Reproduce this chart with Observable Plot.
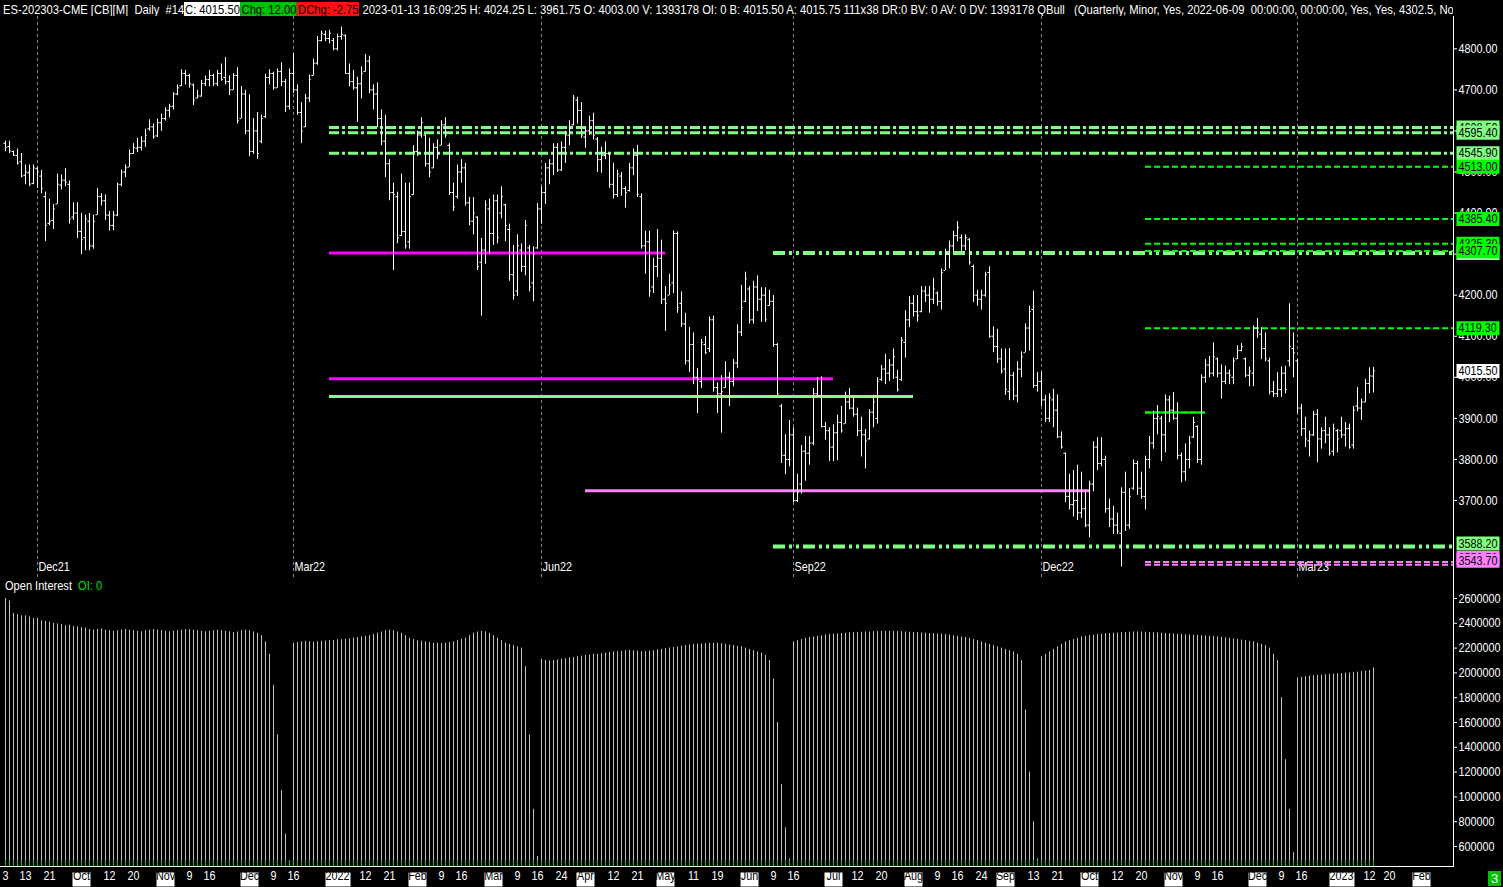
<!DOCTYPE html>
<html>
<head>
<meta charset="utf-8">
<script src="https://cdn.jsdelivr.net/npm/d3@7"></script>
<script src="https://cdn.jsdelivr.net/npm/@observablehq/plot@0.6"></script>
<style>
  html, body { margin: 0; padding: 0; background: #000; }
  #chart { position: relative; width: 1503px; height: 887px; overflow: hidden; background: #000;
           font-family: "Liberation Sans", Arial, sans-serif; }
  #chart svg { position: absolute; left: 0; }
  #hdr { position: absolute; left: 3px; top: 0; width: 1450px; height: 16px; overflow: hidden; }
  #hdr > span.line { display: inline-block; white-space: pre; color: #fff; font-size: 13.5px; line-height: 16px;
         transform: scaleX(0.83); transform-origin: 0 0; }
  #hdr .bx { color: #000; padding: 0 1px; }
  #oiTitle { position: absolute; left: 5px; top: 578px; color: #fff; font-size: 13px; line-height: 15px; white-space: pre;
             transform: scaleX(0.85); transform-origin: 0 0; }
  #oiTitle span { color: #00e000; }
  #barNo { position: absolute; left: 1488px; top: 871px; width: 13px; height: 15px; background: #00c000;
           color: #fff; font-size: 13px; line-height: 15px; text-align: center; }
</style>
</head>
<body>
<div id="chart">
  <div id="hdr"><span class="line" id="hdrLine"></span></div>
  <div id="oiTitle"></div>
  <div id="barNo">3</div>
</div>
<script>
// ---- daily bars, ES continuation (Sep 3 2021 .. Jan 13 2023) ----
const highs = [
  4575,4575,4551,4556,4545,4517,4517,4517,4512,4504,
  4451,4434,4421,4495,4493,4508,4478,4425,4425,4399,
  4395,4399,4395,4460,4447,4444,4404,4404,4473,4505,
  4517,4554,4569,4582,4586,4604,4627,4617,4629,4641,
  4656,4665,4693,4712,4749,4747,4738,4714,4699,4723,
  4734,4747,4738,4747,4763,4779,4734,4740,4754,4708,
  4699,4688,4630,4645,4639,4738,4749,4743,4751,4766,
  4725,4751,4788,4712,4669,4689,4736,4775,4830,4843,
  4843,4845,4825,4836,4853,4834,4763,4747,4731,4756,
  4786,4782,4712,4717,4651,4638,4530,4473,4451,4495,
  4473,4473,4564,4599,4632,4591,4582,4569,4578,4625,
  4632,4569,4473,4517,4530,4521,4438,4438,4391,4338,
  4430,4434,4444,4444,4464,4421,4373,4321,4347,4325,
  4382,4321,4318,4423,4464,4521,4530,4569,4569,4573,
  4599,4625,4686,4682,4669,4608,4636,4643,4584,4560,
  4573,4545,4521,4504,4499,4464,4521,4556,4565,4447,
  4356,4356,4290,4360,4334,4221,4251,4356,4354,4208,
  4156,4121,4108,4021,4092,4099,4147,4149,3986,4004,
  4038,4012,4043,4128,4224,4256,4221,4234,4247,4218,
  4218,4212,4199,4082,3934,3860,3895,3877,3764,3834,
  3856,3856,3973,3999,4001,3890,3877,3884,3908,3929,
  3964,3973,3951,3925,3903,3873,3921,3956,3999,4029,
  4056,4043,4069,4017,4097,4162,4197,4199,4199,4221,
  4221,4221,4241,4208,4264,4312,4332,4356,4379,4347,
  4347,4338,4273,4212,4212,4256,4269,4123,4117,4069,
  4069,4070,4012,4038,4062,4130,4173,4210,4012,4012,
  3956,3960,3971,3957,3867,3816,3764,3773,3786,3769,
  3725,3747,3843,3853,3853,3808,3703,3686,3669,3731,
  3769,3729,3799,3795,3769,3808,3856,3917,3931,3905,
  3957,3954,3963,3938,3816,3838,3856,3903,3882,4006,
  4043,4051,4084,4047,4030,4027,4018,4047,4077,4082,
  4047,4025,4125,4143,4121,4108,4047,3990,4012,4025,
  4027,4179,4108,4043,3934,3903,3869,3917,3921,3877,
  3903,3877,3886,3873,3903,3890,3886,3929,3975,3947,
  3995,4023,4024.25
];
const lows = [
  4549,4545,4538,4517,4486,4469,4464,4469,4460,4447,
  4331,4369,4360,4421,4456,4464,4373,4382,4338,4299,
  4308,4308,4312,4395,4417,4382,4356,4357,4391,4464,
  4486,4511,4543,4547,4551,4560,4599,4580,4584,4599,
  4624,4632,4651,4686,4708,4712,4704,4662,4678,4682,
  4708,4708,4708,4708,4721,4712,4686,4699,4617,4630,
  4591,4537,4543,4531,4569,4630,4712,4699,4704,4708,
  4645,4651,4691,4638,4569,4608,4669,4734,4760,4817,
  4817,4812,4795,4795,4821,4738,4708,4699,4621,4678,
  4743,4691,4651,4608,4564,4486,4430,4260,4325,4343,
  4312,4312,4443,4538,4582,4512,4486,4508,4530,4564,
  4582,4443,4404,4434,4473,4417,4369,4347,4260,4149,
  4275,4299,4321,4325,4386,4330,4234,4188,4197,4256,
  4247,4208,4184,4312,4373,4421,4469,4491,4499,4501,
  4521,4564,4612,4617,4582,4558,4589,4578,4499,4497,
  4530,4460,4434,4438,4441,4412,4451,4491,4438,4312,
  4251,4195,4204,4243,4177,4112,4199,4204,4156,4121,
  4030,4012,3982,3912,3973,4056,4060,3964,3912,3864,
  3973,3929,3977,4021,4099,4182,4130,4130,4160,4134,
  4134,4173,4073,3954,3790,3763,3782,3695,3695,3716,
  3747,3786,3834,3951,3877,3847,3795,3795,3797,3864,
  3886,3921,3903,3856,3806,3777,3847,3877,3886,3990,
  3982,3990,3995,3964,3990,4047,4121,4147,4134,4157,
  4182,4156,4177,4173,4164,4260,4264,4304,4330,4304,
  4308,4273,4182,4173,4164,4195,4095,4060,4034,4008,
  3956,3943,3943,3938,3999,4060,4064,3973,3964,3929,
  3890,3890,3877,3851,3825,3695,3677,3660,3651,3656,
  3634,3609,3721,3773,3782,3669,3634,3617,3617,3538,
  3625,3630,3725,3712,3703,3677,3777,3825,3860,3795,
  3816,3890,3895,3799,3743,3747,3777,3851,3790,3786,
  3986,3999,4001,3999,3947,3982,3982,3982,4043,4062,
  3999,3977,3977,4095,4043,4038,3957,3951,3951,3951,
  3960,4025,3999,3912,3856,3829,3806,3856,3792,3825,
  3838,3808,3808,3816,3851,3830,3825,3825,3916,3895,
  3938,3960,3961.75
];
const opens = [
  4570,4562,4550,4540,4525,4492,4498,4472,4508,4490,
  4440,4375,4382,4422,4468,4480,4470,4390,4400,4355,
  4340,4380,4320,4396,4440,4430,4395,4370,4395,4470,
  4500,4512,4545,4558,4560,4575,4605,4610,4588,4620,
  4630,4650,4660,4690,4710,4740,4735,4712,4680,4685,
  4715,4725,4735,4715,4740,4730,4720,4700,4735,4630,
  4690,4600,4550,4600,4575,4635,4730,4740,4705,4745,
  4720,4660,4740,4700,4645,4610,4680,4735,4765,4820,
  4835,4825,4820,4800,4830,4832,4740,4720,4705,4715,
  4745,4770,4700,4690,4630,4575,4520,4450,4440,4345,
  4355,4330,4445,4550,4590,4590,4520,4510,4560,4565,
  4615,4565,4450,4440,4500,4510,4425,4380,4390,4280,
  4310,4410,4350,4430,4400,4420,4360,4250,4210,4310,
  4270,4315,4230,4315,4410,4450,4510,4520,4560,4505,
  4560,4590,4615,4675,4650,4585,4600,4625,4580,4530,
  4540,4545,4470,4445,4490,4460,4455,4510,4540,4440,
  4320,4330,4220,4270,4290,4190,4200,4230,4350,4180,
  4130,4040,4080,4000,3990,4080,4070,4140,3975,3960,
  3975,4000,3990,4035,4110,4185,4215,4140,4220,4190,
  4200,4175,4185,4080,3930,3810,3800,3860,3700,3740,
  3820,3815,3840,3960,3955,3880,3870,3830,3865,3890,
  3887,3940,3925,3910,3870,3860,3850,3915,3900,3995,
  4020,4010,4030,4000,3995,4085,4140,4180,4160,4160,
  4210,4200,4190,4205,4185,4260,4300,4320,4345,4340,
  4320,4335,4270,4200,4190,4200,4255,4100,4075,4045,
  4020,3965,4005,3955,4020,4060,4120,4165,3980,3990,
  3945,3900,3945,3920,3855,3815,3710,3690,3700,3670,
  3680,3640,3740,3830,3790,3800,3680,3655,3640,3620,
  3720,3640,3730,3790,3730,3710,3800,3840,3900,3900,
  3860,3945,3920,3900,3810,3770,3800,3855,3880,3800,
  4000,4030,4010,4045,4010,3990,4010,4000,4045,4065,
  4045,4005,4010,4120,4105,4070,4040,3965,3960,3970,
  4010,4040,4070,4040,3925,3875,3845,3860,3910,3850,
  3870,3860,3820,3870,3870,3860,3875,3835,3930,3925,
  3940,3985,4003
];
const closes = [
  4560,4552,4541,4522,4490,4500,4470,4510,4500,4460,
  4370,4380,4410,4470,4480,4475,4385,4400,4355,4335,
  4385,4320,4380,4440,4430,4395,4370,4395,4470,4500,
  4510,4545,4560,4560,4575,4590,4610,4585,4620,4630,
  4650,4660,4690,4705,4740,4735,4715,4675,4685,4715,
  4725,4735,4715,4740,4725,4720,4700,4735,4625,4690,
  4600,4550,4600,4545,4630,4730,4740,4705,4745,4720,
  4660,4740,4700,4645,4600,4680,4725,4765,4820,4838,
  4825,4838,4800,4830,4835,4740,4720,4705,4715,4740,
  4770,4700,4690,4630,4575,4520,4450,4445,4340,4355,
  4320,4440,4550,4590,4620,4520,4500,4560,4545,4615,
  4590,4450,4415,4500,4510,4425,4380,4400,4270,4310,
  4420,4350,4430,4340,4440,4370,4250,4200,4320,4270,
  4370,4220,4300,4410,4450,4510,4520,4560,4505,4560,
  4590,4605,4680,4650,4590,4600,4625,4590,4530,4540,
  4545,4470,4445,4495,4460,4450,4510,4540,4445,4320,
  4330,4210,4270,4290,4190,4180,4225,4350,4170,4130,
  4040,4080,4000,3995,4085,4060,4140,3975,3960,3965,
  4000,3990,4035,4110,4170,4240,4140,4220,4190,4200,
  4140,4185,4080,3960,3810,3800,3860,3700,3720,3820,
  3815,3840,3960,3955,3880,3870,3830,3865,3890,3870,
  3940,3925,3910,3870,3860,3845,3915,3940,3990,4020,
  4010,4030,4050,3970,4090,4140,4180,4160,4150,4210,
  4200,4190,4215,4185,4255,4300,4320,4345,4365,4320,
  4340,4280,4200,4190,4200,4250,4100,4075,4045,4015,
  3970,4005,3955,4020,4050,4120,4160,3980,3990,3945,
  3900,3950,3920,3855,3830,3710,3690,3700,3670,3680,
  3640,3740,3830,3790,3800,3680,3655,3640,3625,3720,
  3640,3710,3790,3730,3710,3800,3840,3900,3905,3860,
  3945,3920,3900,3810,3770,3800,3840,3890,3800,4000,
  4030,4010,4050,4010,3990,4010,4005,4040,4065,4075,
  4005,4015,4120,4110,4070,4045,3965,3960,3970,4010,
  3970,4075,4060,3925,3875,3850,3860,3910,3850,3870,
  3860,3815,3875,3850,3860,3875,3830,3920,3925,3940,
  3985,4003.5,4015.5
];
// open interest of the front contract, one value per bar
const openInterest = [
  2600000,2580000,2480000,2470000,2460000,2460000,2450000,2440000,2440000,2420000,
  2415000,2410000,2400000,2395000,2390000,2380000,2385000,2375000,2370000,2365000,
  2360000,2350000,2345000,2350000,2355000,2345000,2340000,2335000,2340000,2345000,
  2350000,2345000,2340000,2335000,2330000,2340000,2345000,2350000,2345000,2340000,
  2335000,2330000,2335000,2340000,2345000,2350000,2348000,2345000,2340000,2335000,
  2330000,2335000,2340000,2345000,2340000,2335000,2330000,2325000,2330000,2340000,
  2345000,2340000,2330000,2320000,2300000,2250000,2150000,1900000,1500000,1050000,
  700000,480000,
  2240000,2245000,2250000,2255000,2250000,2248000,2252000,2255000,2258000,2260000,
  2262000,2265000,2268000,2270000,2275000,2280000,2285000,2290000,2295000,2300000,
  2310000,2320000,2330000,2340000,2345000,2340000,2330000,2320000,2300000,2280000,
  2270000,2260000,2255000,2250000,2245000,2240000,2238000,2236000,2240000,2245000,
  2250000,2260000,2270000,2280000,2300000,2320000,2330000,2335000,2330000,2320000,
  2300000,2280000,2260000,2240000,2230000,2220000,2210000,2200000,2050000,1500000,
  900000,520000,
  2110000,2100000,2095000,2100000,2105000,2110000,2115000,2120000,2125000,2130000,
  2135000,2140000,2145000,2150000,2150000,2155000,2160000,2165000,2170000,2170000,
  2175000,2180000,2180000,2178000,2175000,2170000,2172000,2175000,2180000,2185000,
  2190000,2195000,2200000,2205000,2210000,2215000,2220000,2225000,2230000,2232000,
  2234000,2236000,2238000,2240000,2238000,2235000,2230000,2225000,2220000,2215000,
  2210000,2200000,2190000,2180000,2170000,2160000,2140000,2100000,1950000,1600000,
  1100000,750000,500000,
  2250000,2260000,2270000,2280000,2285000,2290000,2295000,2300000,2305000,2310000,
  2312000,2315000,2318000,2320000,2322000,2325000,2326000,2328000,2330000,2330000,
  2332000,2333000,2334000,2335000,2335000,2334000,2333000,2332000,2330000,2328000,
  2326000,2324000,2322000,2320000,2318000,2316000,2314000,2312000,2310000,2305000,
  2300000,2295000,2290000,2285000,2280000,2270000,2260000,2250000,2240000,2230000,
  2220000,2210000,2200000,2190000,2180000,2170000,2150000,2100000,1700000,1200000,
  800000,500000,
  2130000,2150000,2170000,2190000,2210000,2230000,2250000,2260000,2270000,2280000,
  2290000,2295000,2300000,2305000,2310000,2312000,2315000,2318000,2320000,2322000,
  2324000,2326000,2328000,2330000,2330000,2330000,2328000,2326000,2324000,2322000,
  2320000,2318000,2316000,2314000,2312000,2310000,2308000,2306000,2304000,2302000,
  2300000,2298000,2296000,2294000,2290000,2286000,2282000,2278000,2274000,2270000,
  2265000,2260000,2255000,2250000,2240000,2230000,2220000,2200000,2150000,2100000,
  1800000,1300000,900000,550000,
  1960000,1965000,1970000,1975000,1978000,1980000,1982000,1985000,1988000,1990000,
  1992000,1995000,1998000,2000000,2003000,2006000,2010000,2015000,2020000,2040000
];
// floor of the open-interest pane, where each bar's green base marker ends
const oiBaseLevel = 487000;

// contract rolls (dashed separators)
const rollDates  = ["2021-09-16","2021-12-16","2022-03-17","2022-06-16","2022-09-15","2022-12-15"];
const rollLabels = ["Dec21","Mar22","Jun22","Sep22","Dec22","Mar23"];

// exchange holidays removed from the daily calendar
const holidays = ["2021-09-06","2021-11-25","2021-12-24","2022-01-17","2022-02-21","2022-04-15",
  "2022-05-30","2022-06-20","2022-07-04","2022-09-05","2022-11-24","2022-12-26","2023-01-02",
  "2023-01-16","2023-02-20"];

// time axis labels
const timeTickDates = ["2021-09-03","2021-09-13","2021-09-21","2021-10-01","2021-10-12","2021-10-20",
  "2021-11-01","2021-11-09","2021-11-16","2021-12-01","2021-12-09","2021-12-16","2022-01-03",
  "2022-01-12","2022-01-21","2022-02-01","2022-02-09","2022-02-16","2022-03-01","2022-03-09",
  "2022-03-16","2022-03-24","2022-04-01","2022-04-12","2022-04-21","2022-05-02","2022-05-11",
  "2022-05-19","2022-06-01","2022-06-09","2022-06-16","2022-07-01","2022-07-12","2022-07-20",
  "2022-08-01","2022-08-09","2022-08-16","2022-08-24","2022-09-01","2022-09-13","2022-09-21",
  "2022-10-03","2022-10-12","2022-10-20","2022-11-01","2022-11-09","2022-11-16","2022-12-01",
  "2022-12-09","2022-12-16","2023-01-03","2023-01-12","2023-01-20","2023-02-01"];
const timeTickLabels = ["3","13","21","Oct","12","20","Nov","9","16","Dec","9","16","2022",
  "12","21","Feb","9","16","Mar","9","16","24","Apr","12","21","May","11","19","Jun","9","16",
  "Jul","12","20","Aug","9","16","24","Sep","13","21","Oct","12","20","Nov","9","16","Dec","9",
  "16","2023","12","20","Feb"];

// price axis and open-interest axis ticks
const priceTicks = [3700,3800,3900,4000,4100,4200,4300,4400,4500,4600,4700,4800];
const oiTicks = [600000,800000,1000000,1200000,1400000,1600000,1800000,2000000,2200000,2400000,2600000];

// horizontal levels drawn on the price pane
const levelNames  = ["q1","q2","q3","m1","m2","g1","v1","qb1","qb2","s1","s2","s3","s4","s5","s6","b1","p1","p2"];
const levelValues = [4608.5,4595.4,4545.9,4302.5,3996.5,3953.0,3724.0,4302.5,3588.2,4513.0,4385.4,4325.3,4307.7,4119.3,3914.5,3914.5,3550.5,3543.7];
const levelStart  = ["2021-12-30","2021-12-30","2021-12-30","2021-12-30","2021-12-30","2021-12-30","2022-04-01",
  "2022-06-09","2022-06-09","2022-10-21","2022-10-21","2022-10-21","2022-10-21","2022-10-21","2022-10-21","2022-10-21","2022-10-21","2022-10-21"];
const levelEnd    = ["2023-02-13","2023-02-13","2023-02-13","2022-05-02","2022-07-01","2022-08-01","2022-10-03",
  "2023-02-13","2023-02-13","2023-02-13","2023-02-13","2023-02-13","2023-02-13","2023-02-13","2022-11-11","2022-11-11","2023-02-13","2023-02-13"];
</script>
<script>
const FONT = '"Liberation Sans",Arial,sans-serif';
const SQUEEZE = 0.83;   // narrow face look for all chart text

// trading calendar -> bar index
const days = [];
for (let t = Date.UTC(2021, 8, 3); t <= Date.UTC(2023, 1, 28); t += 864e5) {
  const d = new Date(t), w = d.getUTCDay(), s = d.toISOString().slice(0, 10);
  if (w > 0 && w < 6 && !holidays.includes(s)) days.push(s);
}
const idx = new Map(days.map((s, i) => [s, i]));

const bars = highs.map((h, i) => ({i, high: h, low: lows[i], open: opens[i], close: closes[i]}));
const oiRows = openInterest.map((v, i) => ({i, oi: v}));
const rolls = rollDates.map((d, k) => ({i: idx.get(d), label: rollLabels[k]}));
const timeTicks = timeTickDates.map((d, k) => ({i: idx.get(d), label: timeTickLabels[k],
  boxed: /[A-Za-z]/.test(timeTickLabels[k]) || timeTickLabels[k].length === 4}));

// styles of the level lines
const GREEN_LT = "#80ff80", GREEN = "#00ff00", MAGENTA = "#ff00ff", VIOLET = "#ff80ff";
const levelStyle = {
  q:  {stroke: GREEN_LT, strokeWidth: 3, strokeDasharray: "10,3,3,3"},
  m:  {stroke: MAGENTA, strokeWidth: 3},
  g:  {stroke: GREEN_LT, strokeWidth: 3},
  v:  {stroke: VIOLET, strokeWidth: 3},
  qb: {stroke: GREEN_LT, strokeWidth: 4, strokeDasharray: "12,4,3,4,3,4"},
  s:  {stroke: GREEN, strokeWidth: 2, strokeDasharray: "6,3"},
  b:  {stroke: GREEN, strokeWidth: 2},
  p:  {stroke: VIOLET, strokeWidth: 2, strokeDasharray: "6,3"}
};
const levels = levelNames.map((n, k) => ({kind: n.replace(/\d+$/, ""), value: levelValues[k],
  x1: idx.get(levelStart[k]), x2: idx.get(levelEnd[k])}));

// right-axis value tags (later tags sit on top of earlier ones)
const lastClose = closes[closes.length - 1];
const tags = [
  {value: levelValues[0], bg: GREEN_LT}, {value: levelValues[1], bg: GREEN_LT}, {value: levelValues[2], bg: GREEN_LT},
  {value: levelValues[9], bg: GREEN}, {value: levelValues[10], bg: GREEN}, {value: levelValues[11], bg: GREEN},
  {value: levelValues[7], bg: GREEN_LT}, {value: levelValues[12], bg: GREEN}, {value: levelValues[13], bg: GREEN},
  {value: lastClose, bg: "#ffffff"}, {value: levelValues[8], bg: GREEN_LT, dy: -3},
  {value: levelValues[16], bg: VIOLET, dy: -4}, {value: levelValues[17], bg: VIOLET, dy: -4}
];

const boxSymbol = (x0, w, h) => ({
  draw(ctx) { ctx.moveTo(x0, -h / 2); ctx.lineTo(x0 + w, -h / 2); ctx.lineTo(x0 + w, h / 2); ctx.lineTo(x0, h / 2); ctx.closePath(); }
});

const X = {type: "linear", domain: [-1.25, 362], range: [0, 1453], axis: null};

const pricePlot = Plot.plot({
  width: 1503, height: 578,
  marginTop: 16, marginBottom: 0, marginLeft: 0, marginRight: 50,
  style: {background: "transparent", color: "white", fontFamily: FONT, fontSize: "13px", overflow: "hidden"},
  x: X,
  y: {type: "linear", domain: [3700, 4800], range: [500, 48.3], axis: null},
  marks: [
    Plot.ruleX(rolls, {x: "i", stroke: "#8a8a8a", strokeDasharray: "3,3"}),
    Plot.text(rolls, {x: "i", text: "label", frameAnchor: "bottom", dy: -8, dx: 1, textAnchor: "start", fill: "white", fontSize: 13}),
    ...Object.keys(levelStyle).map(kind =>
      Plot.ruleY(levels.filter(l => l.kind === kind), {y: "value", x1: "x1", x2: "x2", ...levelStyle[kind]})),
    Plot.ruleX(bars, {x: "i", y1: "low", y2: "high", stroke: "white", strokeWidth: 1}),
    Plot.ruleY(bars, {y: "open", x1: d => d.i - 0.4, x2: "i", stroke: "white", strokeWidth: 1}),
    Plot.ruleY(bars, {y: "close", x1: "i", x2: d => d.i + 0.45, stroke: "white", strokeWidth: 1}),
    Plot.ruleX([362], {stroke: "white"}),
    Plot.axisY(priceTicks, {anchor: "right", label: null, tickFormat: d => d.toFixed(2), tickSize: 3, tickPadding: 2, fontSize: 13}),
    ...tags.flatMap(t => [
      Plot.dot([t], {y: "value", frameAnchor: "right", dy: t.dy || 0, symbol: boxSymbol(3, 43, 14), fill: t.bg, stroke: "none"}),
      Plot.text([t], {y: "value", frameAnchor: "right", dy: t.dy || 0, dx: 5, textAnchor: "start", text: d => d.value.toFixed(2), fill: "black", fontSize: 13})
    ])
  ]
});
pricePlot.style.top = "0px";

const oiPlot = Plot.plot({
  width: 1503, height: 309,
  marginTop: 0, marginBottom: 21, marginLeft: 0, marginRight: 50,
  style: {background: "transparent", color: "white", fontFamily: FONT, fontSize: "13px", overflow: "hidden"},
  x: X,
  y: {type: "linear", domain: [600000, 2600000], range: [268, 20], axis: null},
  marks: [
    Plot.ruleX(oiRows, {x: "i", y1: 0, y2: "oi", stroke: "#c4c4c4", clip: true}),
    Plot.ruleX(oiRows, {x: "i", y1: 0, y2: oiBaseLevel, stroke: "#00d000", clip: true}),
    Plot.ruleX([362], {stroke: "white"}),
    Plot.frame({anchor: "bottom", stroke: "white"}),
    Plot.axisY(oiTicks, {anchor: "right", label: null, tickFormat: d => String(d), tickSize: 3, tickPadding: 2, fontSize: 13}),
    Plot.dot(timeTicks.filter(d => d.boxed && d.label.length === 3), {x: "i", frameAnchor: "bottom", dy: 13, symbol: boxSymbol(-9, 18, 14), fill: "white", stroke: "none"}),
    Plot.dot(timeTicks.filter(d => d.boxed && d.label.length === 4), {x: "i", frameAnchor: "bottom", dy: 13, symbol: boxSymbol(-12, 25, 14), fill: "white", stroke: "none"}),
    Plot.text(timeTicks, {x: "i", text: "label", frameAnchor: "bottom", dy: 13, fill: d => d.boxed ? "black" : "white", fontSize: 13})
  ]
});
oiPlot.style.top = "578px";

const chart = document.getElementById("chart");
chart.appendChild(pricePlot);
chart.appendChild(oiPlot);

// narrow every svg label horizontally
for (const svg of [pricePlot, oiPlot]) {
  svg.querySelectorAll("text").forEach(t => {
    const L = t.getComputedTextLength();
    if (L > 0) { t.setAttribute("textLength", (L * SQUEEZE).toFixed(2)); t.setAttribute("lengthAdjust", "spacingAndGlyphs"); }
  });
}

// status line
const n = closes.length - 1;
const f2 = v => v.toFixed(2);
document.getElementById("hdrLine").innerHTML =
  `ES-202303-CME [CB][M]  Daily  #14` +
  `<span class="bx" style="background:#fff">C: ${f2(closes[n])}</span>` +
  `<span class="bx" style="background:#00c000">Chg: ${f2(closes[n] - closes[n - 1])}</span>` +
  `<span class="bx" style="background:#ff1010">DChg: -2.75</span>` +
  ` 2023-01-13 16:09:25 H: ${f2(highs[n])} L: ${f2(lows[n])} O: ${f2(opens[n])} V: 1393178 OI: 0 B: ${f2(closes[n])} A: 4015.75 111x38 DR:0 BV: 0 AV: 0 DV: 1393178 QBull   (Quarterly, Minor, Yes, 2022-06-09  00:00:00, 00:00:00, Yes, Yes, ${levelValues[3]}, No, Yes)`;
document.getElementById("oiTitle").innerHTML = `Open Interest  <span>OI: 0</span>`;
</script>
</body>
</html>
